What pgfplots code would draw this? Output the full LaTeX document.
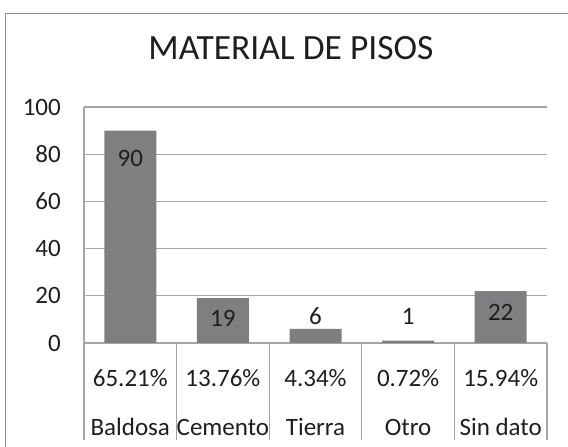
\documentclass[border=0pt]{standalone}
\usepackage{pgfplots}
\pgfplotsset{compat=1.18}
\usepackage{fontspec}
\setmainfont{Carlito}
\definecolor{barc}{RGB}{127,127,129}
\definecolor{gridc}{RGB}{165,165,165}
\definecolor{framec}{RGB}{140,140,140}
\definecolor{txt}{RGB}{30,30,30}
\begin{document}
\begin{tikzpicture}[x=1bp,y=1bp]
\useasboundingbox (-84,-104) rectangle (484,343);
\draw[framec, line width=1.8bp] (-78.5,-120) -- (-78.5,329.5) -- (520,329.5);
\begin{axis}[
  anchor=south west, scale only axis,
  width=463bp, height=236bp,
  xmin=-0.5, xmax=4.5, ymin=0, ymax=100,
  ytick={0,20,...,100},
  axis x line=bottom, axis y line=left,
  axis line style={gridc, line width=1.3bp, -},
  ymajorgrids, major grid style={gridc, line width=1.3bp},
  xtick={0,1,2,3,4},
  xticklabels={{65.21\%\\Baldosa},{13.76\%\\Cemento},{4.34\%\\Tierra},{0.72\%\\Otro},{15.94\%\\Sin dato}},
  xticklabel style={align=center, font=\fontsize{25bp}{49bp}\selectfont, inner sep=0pt, anchor=north, yshift=-26bp, text=txt},
  major tick length=0pt,
  extra x ticks={-0.5,0.5,1.5,2.5,3.5,4.5},
  extra x tick labels={},
  extra x tick style={major tick length=97bp, tick align=outside, tick style={gridc, line width=1.3bp}},
  yticklabel style={font=\fontsize{25bp}{30bp}\selectfont, inner sep=0pt, xshift=-23bp, text=txt, anchor=east},
  /pgf/number format/assume math mode=true,
  title={MATERIAL DE PISOS},
  title style={font=\fontsize{35.5bp}{40bp}\selectfont, text=txt, anchor=base, at={(0.447,1.174)}},
  clip=false,
]
\addplot[ybar, bar width=52bp, fill=barc, draw=none] coordinates {(0,90) (1,19) (2,6) (3,1) (4,22)};
\addplot[only marks, mark=none, nodes near coords, point meta=explicit symbolic,
  every node near coord/.style={font=\fontsize{25bp}{30bp}\selectfont, text=txt, anchor=center, inner sep=0pt}]
  coordinates {(0,78) [90] (1,10.6) [19] (2,11.4) [6] (3,11.4) [1] (4,13.1) [22]};
\end{axis}
\end{tikzpicture}
\end{document}
